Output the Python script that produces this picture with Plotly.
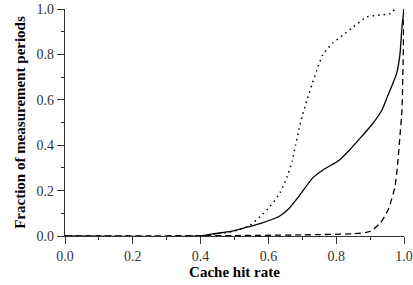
import plotly.graph_objects as go

# Solid curve
solid_x = [0.0, 0.40, 0.44, 0.49, 0.54, 0.58, 0.63, 0.66, 0.69, 0.73, 0.76, 0.81, 0.84, 0.87, 0.905, 0.935, 0.95, 0.979, 0.988, 0.994, 1.0]
solid_y = [0.0, 0.0, 0.01, 0.02, 0.04, 0.057, 0.085, 0.12, 0.175, 0.255, 0.29, 0.335, 0.38, 0.43, 0.49, 0.555, 0.61, 0.72, 0.80, 0.92, 1.0]

# Dotted curve
dotted_x = [0.0, 0.40, 0.45, 0.50, 0.546, 0.575, 0.605, 0.634, 0.655, 0.67, 0.68, 0.69, 0.70, 0.714, 0.729, 0.743, 0.761, 0.79, 0.82, 0.85, 0.89, 0.93, 0.96, 0.973]
dotted_y = [0.0, 0.0, 0.01, 0.022, 0.048, 0.085, 0.13, 0.19, 0.26, 0.33, 0.40, 0.47, 0.53, 0.60, 0.67, 0.73, 0.80, 0.85, 0.885, 0.92, 0.965, 0.974, 0.98, 1.0]

# Dashed curve
dashed_x = [0.0, 0.5, 0.7, 0.85, 0.9, 0.93, 0.953, 0.973, 0.982, 0.988, 0.994, 0.997, 1.0]
dashed_y = [0.0, 0.002, 0.005, 0.01, 0.02, 0.057, 0.115, 0.215, 0.33, 0.44, 0.555, 0.74, 1.0]

x_ticks = [0.0, 0.2, 0.4, 0.6, 0.8, 1.0]
y_ticks = [0.0, 0.2, 0.4, 0.6, 0.8, 1.0]

SERIF = "Liberation Serif, Times New Roman, serif"

fig = go.Figure()
fig.add_trace(go.Scatter(x=dashed_x, y=dashed_y, mode="lines", hoverinfo="skip",
                         line=dict(color="black", width=1.3, dash="6px,4px", shape="spline", smoothing=0.6)))
fig.add_trace(go.Scatter(x=dotted_x, y=dotted_y, mode="lines", hoverinfo="skip",
                         line=dict(color="black", width=1.5, dash="1.5px,4px", shape="spline", smoothing=0.6)))
fig.add_trace(go.Scatter(x=solid_x, y=solid_y, mode="lines", hoverinfo="skip",
                         line=dict(color="black", width=1.3, shape="spline", smoothing=0.6)))

axis_common = dict(
    range=[0, 1], showgrid=False, zeroline=False, showline=True, automargin=False,
    linecolor="#333", linewidth=1.2, ticks="outside", ticklen=7, tickwidth=1.2,
    tickcolor="#333", tickformat=".1f",
    tickfont=dict(family=SERIF, size=14, color="#333"),
    minor=dict(ticks="outside", ticklen=3, tickwidth=1, tickcolor="#333", dtick=0.1),
)

fig.update_xaxes(**axis_common, tickvals=x_ticks,
                 title=dict(text="<b>Cache hit rate</b>", standoff=3,
                            font=dict(family=SERIF, size=15, color="black")))
fig.update_yaxes(**axis_common, tickvals=y_ticks,
                 title=dict(text="<b>Fraction of measurement periods</b>", standoff=7,
                            font=dict(family=SERIF, size=15, color="black")))

fig.update_layout(
    width=413, height=285,
    margin=dict(l=65, r=9, t=9, b=49),
    font=dict(family=SERIF, size=14, color="#333"),
    plot_bgcolor="white", paper_bgcolor="white",
    showlegend=False,
)

fig.write_html("out.html", config={"displayModeBar": False},
               post_script="document.body.style.margin='0';document.body.style.overflow='hidden';")
